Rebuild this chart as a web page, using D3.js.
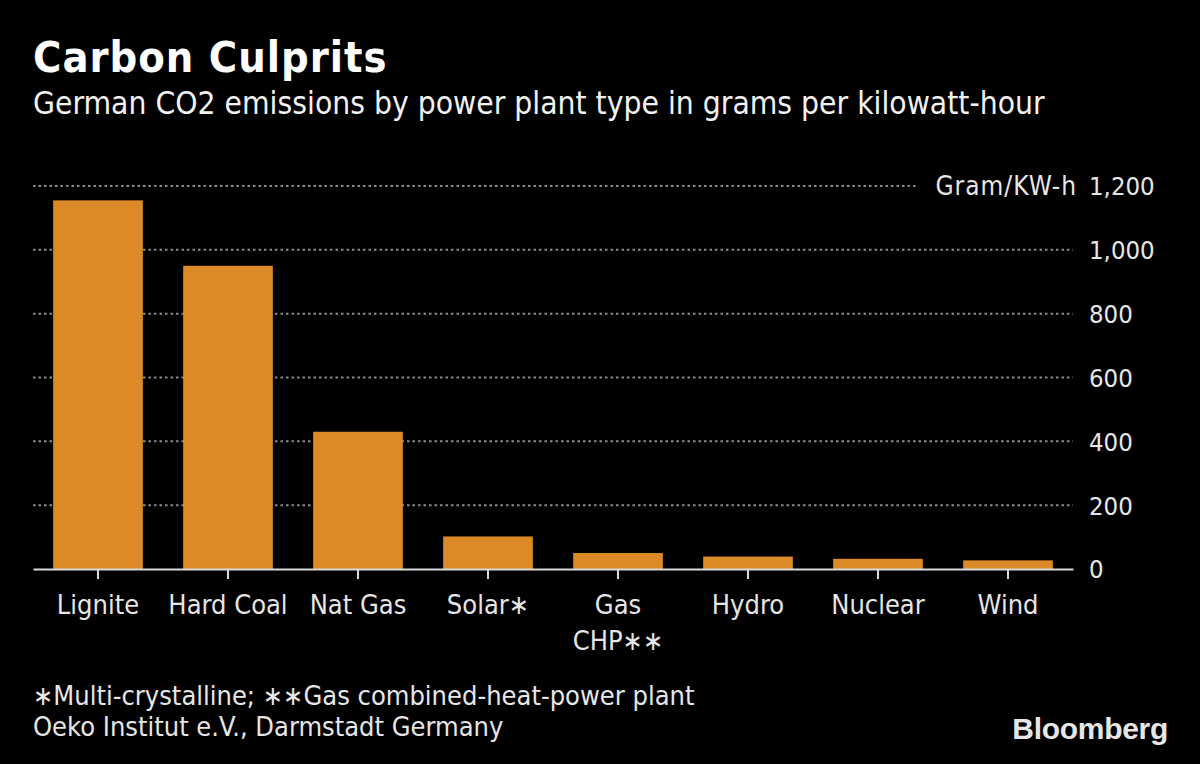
<!DOCTYPE html>
<html><head><meta charset="utf-8">
<script src="https://cdn.jsdelivr.net/npm/d3@7"></script>
<style>
html,body{margin:0;padding:0;background:#000;}
svg{display:block;}
text{font-family:"DejaVu Sans Condensed","DejaVu Sans",sans-serif;font-stretch:condensed;}
</style></head><body>
<svg id="chart" width="1200" height="764"></svg>
<script>
const categories = ["Lignite","Hard Coal","Nat Gas","Solar*","Gas CHP**","Hydro","Nuclear","Wind"];
const categoryLines = [["Lignite"],["Hard Coal"],["Nat Gas"],["Solar\u2217"],["Gas","CHP\u2217\u2217"],["Hydro"],["Nuclear"],["Wind"]];
const values = [1155, 950, 430, 102, 50, 39, 32, 27];
const yTicks = [0, 200, 400, 600, 800, 1000, 1200];
const yTickLabels = ["0","200","400","600","800","1,000","1,200"];
const unitLabel = "Gram/KW-h";
const title = "Carbon Culprits";
const subtitle = "German CO2 emissions by power plant type in grams per kilowatt-hour";
const footnotes = ["\u2217Multi-crystalline; \u2217\u2217Gas combined-heat-power plant","Oeko Institut e.V., Darmstadt Germany"];

(function(){
const svg = d3.select("#chart");
svg.append("rect").attr("width",1200).attr("height",764).attr("fill","#000");

const mLeft = 33, mRight = 1073, mTop = 186, mBottom = 569;
const x = d3.scaleBand().domain(categories).range([mLeft, mRight]).paddingInner(0.31).paddingOuter(0.155);
const y = d3.scaleLinear().domain([0, 1200]).range([mBottom, mTop]);

svg.append("text").attr("x",33).attr("y",72).attr("fill","#fff")
  .attr("font-size",43).attr("font-weight","bold").attr("letter-spacing",1).text(title);
svg.append("text").attr("x",33).attr("y",114).attr("fill","#f2f2f2")
  .attr("font-size",31.5).text(subtitle);

const grid = svg.append("g");
yTicks.filter(t => t > 0).forEach(t => {
  const x2 = t === 1200 ? 918 : mRight;
  grid.append("line").attr("x1",mLeft).attr("x2",x2).attr("y1",y(t)).attr("y2",y(t))
    .attr("stroke","#8a8a8a").attr("stroke-width",2).attr("stroke-dasharray","2.5,3");
});

const yAxis = d3.axisRight(y).tickValues(yTicks).tickSize(0).tickPadding(0)
  .tickFormat((d,i) => yTickLabels[i]);
const gy = svg.append("g").attr("transform",`translate(1089,0)`).call(yAxis);
gy.select(".domain").remove();
gy.selectAll("text").attr("fill","#e6e6e6").attr("font-size",25.5).attr("dy","0.35em")
  .attr("font-family","'DejaVu Sans Condensed','DejaVu Sans',sans-serif");
svg.append("text").attr("x",1077).attr("y",y(1200)).attr("dy","0.35em").attr("text-anchor","end")
  .attr("fill","#e6e6e6").attr("font-size",26).attr("letter-spacing",1).text(unitLabel);

svg.append("g").selectAll("rect").data(values).join("rect")
  .attr("x",(d,i)=>x(categories[i])).attr("width",x.bandwidth())
  .attr("y",d=>y(d)).attr("height",d=>y(0)-y(d)).attr("fill","#dc8a28");

const xAxis = d3.axisBottom(x).tickSize(10).tickSizeOuter(0).tickFormat("");
const gx = svg.append("g").attr("transform",`translate(0,${mBottom})`).call(xAxis);
gx.select(".domain").attr("stroke","#d9d9d9").attr("stroke-width",2);
gx.selectAll(".tick line").attr("stroke","#d9d9d9").attr("stroke-width",2);

const labels = svg.append("g");
categories.forEach((c,i) => {
  const t = labels.append("text").attr("x", x(c)+x.bandwidth()/2).attr("y",614)
    .attr("text-anchor","middle").attr("fill","#e6e6e6").attr("font-size",27);
  categoryLines[i].forEach((ln,j) => {
    t.append("tspan").attr("x", x(c)+x.bandwidth()/2).attr("dy", j===0?0:36).text(ln);
  });
});

footnotes.forEach((f,i) => {
  svg.append("text").attr("x",33).attr("y",705+i*31).attr("fill","#e6e6e6")
    .attr("font-size",27).text(f);
});
svg.append("text").attr("x",1168).attr("y",739).attr("text-anchor","end")
  .attr("fill","#e6e6e6").attr("font-size",30).attr("font-weight","bold")
  .attr("letter-spacing",-0.3)
  .style("font-family","'Liberation Sans',Arial,sans-serif").style("font-stretch","normal")
  .text("Bloomberg");
})();
</script>
</body></html>
